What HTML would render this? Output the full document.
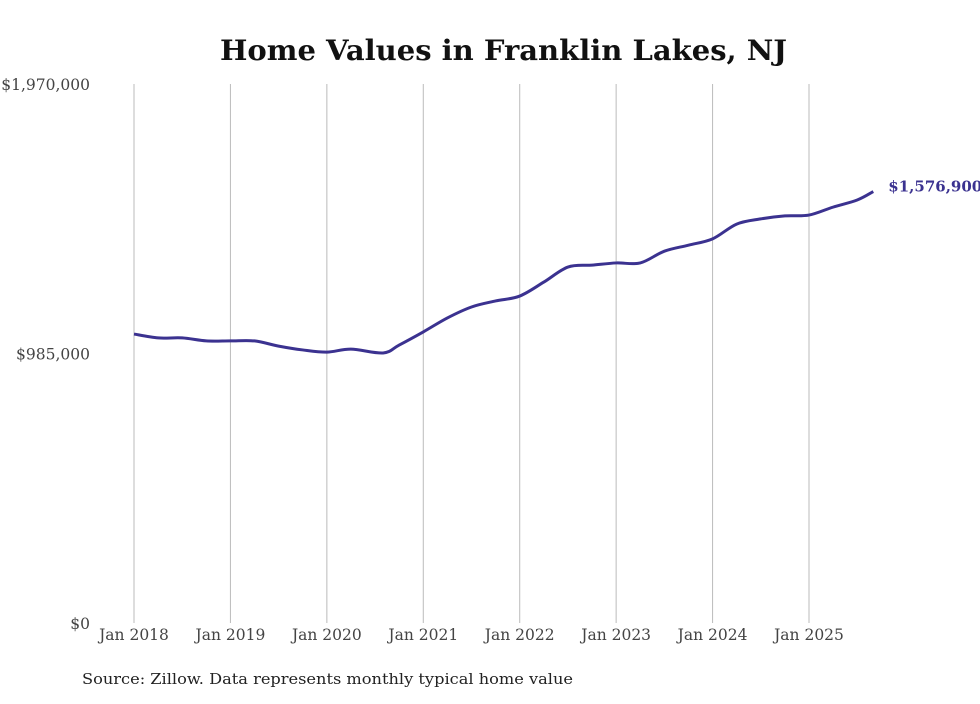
<!DOCTYPE html>
<html><head><meta charset="utf-8"><style>
html,body{margin:0;padding:0;background:#fff;}
svg text{font-family:"DejaVu Serif","Liberation Serif",serif;}
</style></head><body>
<svg width="980" height="699" viewBox="0 0 980 699">
<text x="220" y="60" font-size="28" font-weight="bold" fill="#111" textLength="567" lengthAdjust="spacingAndGlyphs">Home Values in Franklin Lakes, NJ</text>
<g id="grid"></g>
<g id="yaxis"></g>
<g id="xaxis"></g>
<path id="line" fill="none" stroke="#3b3290" stroke-width="3"/>
<text id="lastLabel" font-size="15" font-weight="bold" fill="#3b3290"></text>
<text x="82" y="684" font-size="15" fill="#222" textLength="491" lengthAdjust="spacingAndGlyphs">Source: Zillow. Data represents monthly typical home value</text>
</svg>
<script>
const months=[0,3,6,9,12,15,18,21,24,27,31,33,36,39,42,45,48,51,54,57,60,63,66,69,72,75,78,81,84,87,90,92];
const values=[1056000,1042000,1042000,1031000,1031000,1031000,1012000,998000,990000,1001000,987000,1016000,1064000,1115000,1155000,1177000,1195000,1246000,1301000,1308000,1316000,1316000,1359000,1381000,1404000,1458000,1477000,1488000,1491000,1520000,1546000,1576900];
const yTicks=[0,985000,1970000];
const yTickLabels=["$0","$985,000","$1,970,000"];
const xTickMonths=[0,12,24,36,48,60,72,84];
const xTickLabels=["Jan 2018","Jan 2019","Jan 2020","Jan 2021","Jan 2022","Jan 2023","Jan 2024","Jan 2025"];
const lastLabel="$1,576,900";
const NS="http://www.w3.org/2000/svg";
function x(m){return 134+m*(809-134)/84;}
function y(v){return 623-v*(623-84)/1970000;}
const grid=document.getElementById('grid'),xa=document.getElementById('xaxis'),ya=document.getElementById('yaxis');
xTickMonths.forEach((m,i)=>{
 const l=document.createElementNS(NS,'line');
 l.setAttribute('x1',x(m));l.setAttribute('x2',x(m));l.setAttribute('y1',84);l.setAttribute('y2',623);
 l.setAttribute('stroke','#bbb');l.setAttribute('stroke-width','1');
 
 
 grid.appendChild(l);
 const t=document.createElementNS(NS,'text');
 t.setAttribute('x',x(m));t.setAttribute('y',640);t.setAttribute('text-anchor','middle');
 t.setAttribute('font-size','15.5');t.setAttribute('fill','#444');
 t.textContent=xTickLabels[i];
 
 
 xa.appendChild(t);
});
yTicks.forEach((v,i)=>{
 const t=document.createElementNS(NS,'text');
 t.setAttribute('x',90);t.setAttribute('y',y(v)+6);t.setAttribute('text-anchor','end');
 t.setAttribute('font-size','15.5');t.setAttribute('fill','#444');
 t.textContent=yTickLabels[i];
 
 
 ya.appendChild(t);
});
const pts=months.map((m,i)=>[x(m),y(values[i])]);
let d='M'+pts[0][0]+','+pts[0][1];
for(let i=0;i<pts.length-1;i++){
 const p0=pts[Math.max(0,i-1)],p1=pts[i],p2=pts[i+1],p3=pts[Math.min(pts.length-1,i+2)];
 const c1=[p1[0]+(p2[0]-p0[0])/6,p1[1]+(p2[1]-p0[1])/6];
 const c2=[p2[0]-(p3[0]-p1[0])/6,p2[1]-(p3[1]-p1[1])/6];
 d+=' C'+c1[0]+','+c1[1]+' '+c2[0]+','+c2[1]+' '+p2[0]+','+p2[1];
}
document.getElementById('line').setAttribute('d',d);
const ll=document.getElementById('lastLabel');
const lp=pts[pts.length-1];
ll.setAttribute('x',lp[0]+15);ll.setAttribute('y',lp[1]);
ll.textContent=lastLabel;
</script>
</body></html>
